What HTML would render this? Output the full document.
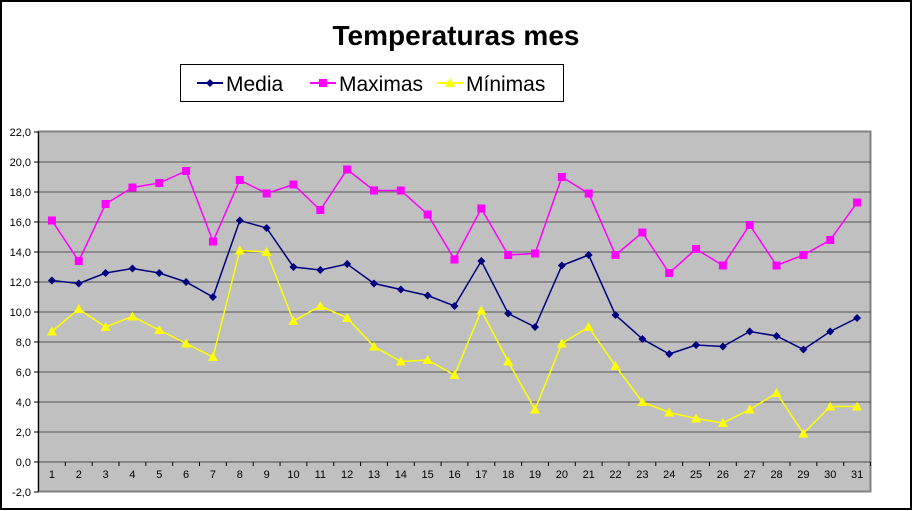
<!DOCTYPE html>
<html><head><meta charset="utf-8"><style>
html,body{margin:0;padding:0;background:#fff}
svg{display:block}
text{font-family:"Liberation Sans",Arial,sans-serif}
</style></head><body>
<svg id="s" width="913" height="511" xmlns="http://www.w3.org/2000/svg">
<rect x="1" y="1" width="910" height="508" fill="#fff" stroke="#000" stroke-width="2"/>
<text x="456" y="45" font-size="28" font-weight="bold" text-anchor="middle">Temperaturas mes</text>
<rect x="180.5" y="64.5" width="383" height="37" fill="#fff" stroke="#000"/>
<line x1="197" y1="83" x2="223" y2="83" stroke="#000080" stroke-width="2"/>
<path d="M210 79 L214 83 L210 87 L206 83Z" fill="#000080"/>
<text x="226" y="91" font-size="21">Media</text>
<line x1="310" y1="83" x2="336" y2="83" stroke="#ff00ff" stroke-width="2"/>
<rect x="319" y="79" width="8" height="8" fill="#ff00ff"/>
<text x="339" y="91" font-size="21">Maximas</text>
<line x1="437" y1="83" x2="463" y2="83" stroke="#ffff00" stroke-width="2"/>
<path d="M450 78 L455 87 L445 87Z" fill="#ffff00"/>
<text x="466" y="91" font-size="21">Mínimas</text>
<rect x="38.5" y="131.5" width="832" height="360" fill="#c0c0c0" stroke="#808080" stroke-width="2"/>
<g id="g"></g>
</svg>
<script>
var ns="http://www.w3.org/2000/svg",g=document.getElementById('g');
function el(t,a,tx){var e=document.createElementNS(ns,t);for(var k in a)e.setAttribute(k,a[k]);if(tx)e.textContent=tx;g.appendChild(e);return e;}
function Y(v){return 462-15*v;}
var L=38.5,R=870.5,step=(R-L)/31;
function X(i){return L+step*(i+0.5);}
for(var v=-2;v<=22;v+=2){var y=Y(v);
 if(v>-2&&v<22)el('line',{x1:L,x2:R,y1:y,y2:y,stroke:'#000',"stroke-width":1,opacity:v==0?0.6:0.55});
 el('line',{x1:34,x2:L,y1:y,y2:y,stroke:'#000'});
 el('text',{x:31,y:y+4,"font-size":11,"text-anchor":"end"},v.toFixed(1).replace('.',','));}
el('line',{x1:L,x2:L,y1:131.5,y2:491.5,stroke:'#000'});
for(var i=0;i<=31;i++){var x=L+step*i;el('line',{x1:x,x2:x,y1:462,y2:466,stroke:'#000'});}
for(var i=0;i<31;i++)el('text',{x:X(i),y:478,"font-size":11,"text-anchor":"middle"},String(i+1));
var med=[12.1,11.9,12.6,12.9,12.6,12.0,11.0,16.1,15.6,13.0,12.8,13.2,11.9,11.5,11.1,10.4,13.4,9.9,9.0,13.1,13.8,9.8,8.2,7.2,7.8,7.7,8.7,8.4,7.5,8.7,9.6];
var max=[16.1,13.4,17.2,18.3,18.6,19.4,14.7,18.8,17.9,18.5,16.8,19.5,18.1,18.1,16.5,13.5,16.9,13.8,13.9,19.0,17.9,13.8,15.3,12.6,14.2,13.1,15.8,13.1,13.8,14.8,17.3];
var min=[8.7,10.2,9.0,9.7,8.8,7.9,7.0,14.1,14.0,9.4,10.4,9.6,7.7,6.7,6.8,5.8,10.1,6.7,3.5,7.9,9.0,6.4,4.0,3.3,2.9,2.6,3.5,4.6,1.9,3.7,3.7];
function series(d,c,m){var p=d.map(function(v,i){return X(i).toFixed(1)+','+Y(v).toFixed(1)}).join(' ');
 el('polyline',{points:p,fill:'none',stroke:c,"stroke-width":1.5});
 d.forEach(function(v,i){var x=X(i),y=Y(v);
  if(m=='d')el('path',{d:'M'+x+' '+(y-4)+'L'+(x+4)+' '+y+'L'+x+' '+(y+4)+'L'+(x-4)+' '+y+'Z',fill:c});
  else if(m=='s')el('rect',{x:x-4,y:y-4,width:8,height:8,fill:c});
  else el('path',{d:'M'+x+' '+(y-5)+'L'+(x+5)+' '+(y+4)+'L'+(x-5)+' '+(y+4)+'Z',fill:c});});}
series(min,'#ffff00','t');series(max,'#ff00ff','s');series(med,'#000080','d');
</script>
</body></html>
